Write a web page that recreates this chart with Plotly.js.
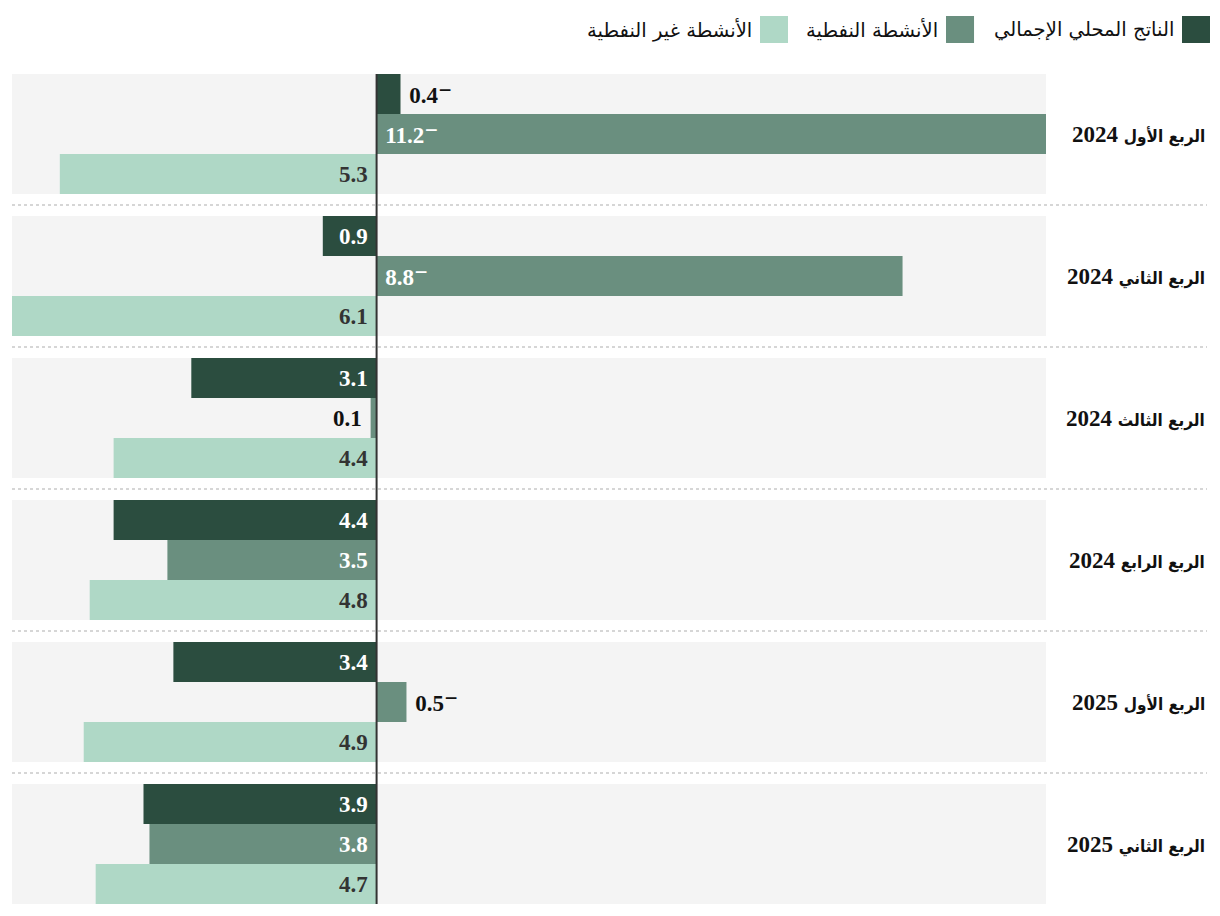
<!DOCTYPE html>
<html>
<head>
<meta charset="utf-8">
<script src="https://cdn.plot.ly/plotly-3.0.1.min.js"></script>
<style>html,body{margin:0;padding:0;background:#fff;}</style>
</head>
<body>
<div id="chart" style="width:1220px;height:916px;"></div>
<script>
const quarters = ["الربع الأول","الربع الثاني","الربع الثالث","الربع الرابع","الربع الأول","الربع الثاني"];
const years = ["2024","2024","2024","2024","2025","2025"];
const categories = quarters.map((q, i) => q + " " + years[i]);
const seriesNames = ["الناتج المحلي الإجمالي","الأنشطة النفطية","الأنشطة غير النفطية"];
const gdp    = [-0.4, 0.9, 3.1, 4.4, 3.4, 3.9];
const oil    = [-11.2, -8.8, 0.1, 3.5, -0.5, 3.8];
const nonOil = [5.3, 6.1, 4.4, 4.8, 4.9, 4.7];
const colors = ["#2b4d3f", "#6a8f7f", "#afd8c6"];
const insideTextColors = ["#ffffff", "#ffffff", "#333333"];

const numFont = "'Liberation Serif', 'DejaVu Sans', serif";
const arFont = "'DejaVu Sans', sans-serif";
const bargap = 22/142;
const numSize = 23;

function label(v){
  const s = Math.abs(v).toFixed(1);
  if (v < 0) return "\u00a0" + s + "<span style=\"font-size:27px\">\u207B</span>";
  return s + "\u00a0";
}
function pos(v){ return Math.abs(v) < 0.8 ? "outside" : "inside"; }

const data = [gdp, oil, nonOil].map((vals, i) => ({
  type: "bar",
  orientation: "h",
  name: seriesNames[i],
  y: categories,
  x: vals,
  marker: {color: colors[i], line: {width: 0}},
  text: vals.map(label),
  textposition: vals.map(pos),
  insidetextanchor: "start",
  constraintext: "none",
  cliponaxis: false,
  textfont: {family: numFont, size: numSize, color: insideTextColors[i], weight: "bold"},
  insidetextfont: {family: numFont, size: numSize, color: insideTextColors[i], weight: "bold"},
  outsidetextfont: {family: numFont, size: numSize, color: "#111111", weight: "bold"},
  hoverinfo: "skip",
  showlegend: false
}));

const shapes = [];
const annotations = [];
categories.forEach((c, i) => {
  shapes.push({type: "rect", layer: "below", xref: "paper", yref: "y",
    x0: 0, x1: 1, y0: i - 0.5 + bargap/2, y1: i + 0.5 - bargap/2,
    fillcolor: "#f4f4f4", line: {width: 0}});
  if (i < categories.length - 1) {
    shapes.push({type: "line", layer: "below", xref: "paper", yref: "y",
      x0: 0, x1: 1.1557, y0: i + 0.5, y1: i + 0.5,
      line: {color: "#d6d6d6", width: 2, dash: "dot"}});
  }
  annotations.push({xref: "paper", yref: "y", x: 1.1557, y: i, xanchor: "right", yanchor: "middle",
    text: "<span style=\"font-family:'DejaVu Sans Condensed','DejaVu Sans';font-size:17px\">" + quarters[i] + "</span> " + years[i],
    showarrow: false, font: {family: numFont, size: numSize, color: "#111", weight: "bold"}});
});
shapes.push({type: "line", xref: "x", yref: "y", x0: 0, x1: 0,
  y0: -0.5 + bargap/2, y1: categories.length - 0.5 - bargap/2,
  line: {color: "#333333", width: 2}});

// custom legend (right-to-left)
const legendBoxes = [[1.1315, 1.1586, 1.1257], [0.9033, 0.9304, 0.8975], [0.7234, 0.7505, 0.7176]];
seriesNames.forEach((n, i) => {
  const b = legendBoxes[i];
  shapes.push({type: "rect", xref: "paper", yref: "paper", x0: b[0], x1: b[1], y0: 1.0235, y1: 1.0552,
    fillcolor: colors[i], line: {width: 0}});
  annotations.push({xref: "paper", yref: "paper", x: b[2], y: 1.0393, xanchor: "right", yanchor: "middle",
    text: n, showarrow: false, font: {family: arFont, size: 19.6, color: "#111"}});
});

const layout = {
  width: 1220, height: 916,
  margin: {l: 12, r: 174, t: 63, b: 1},
  paper_bgcolor: "#ffffff", plot_bgcolor: "rgba(0,0,0,0)",
  barmode: "group", bargap: bargap, bargroupgap: 0,
  xaxis: {range: [6.1, -11.2], showgrid: false, zeroline: false, showticklabels: false, ticks: "", fixedrange: true},
  yaxis: {type: "category", categoryorder: "array", categoryarray: categories, autorange: false, range: [5.5, -0.5],
    showgrid: false, zeroline: false, showticklabels: false, ticks: ""},
  shapes: shapes,
  annotations: annotations,
  showlegend: false,
  font: {family: numFont}
};

Plotly.newPlot("chart", data, layout, {displayModeBar: false, staticPlot: true});
</script>
</body>
</html>
